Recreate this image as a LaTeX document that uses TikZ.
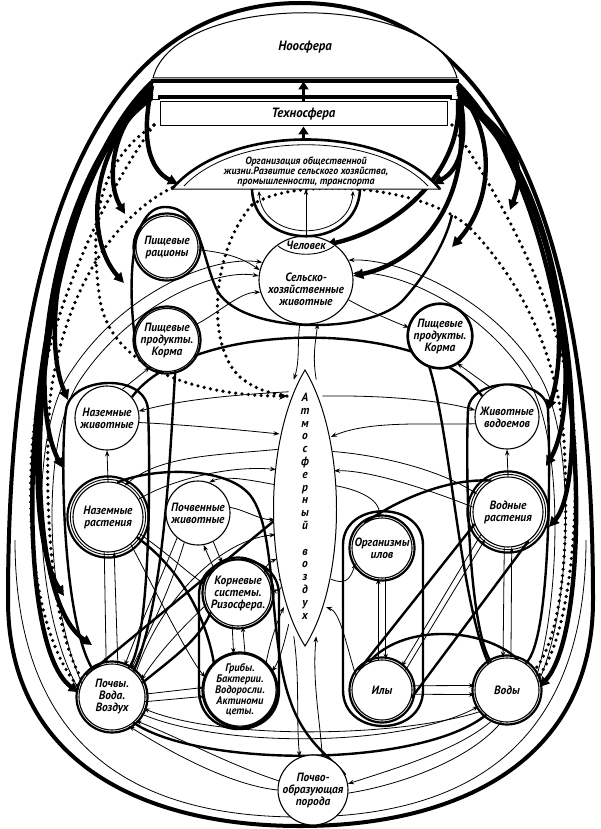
\documentclass[tikz,border=0pt]{standalone}
\usepackage{fontspec}
\newfontfamily\lblfont{PT Sans}[FakeStretch=0.95]
\usetikzlibrary{arrows.meta,shapes.geometric}
\pgfdeclarelayer{bg}
\pgfsetlayers{bg,main}
\newcommand\lfnt{\lblfont\itshape\bfseries\fontsize{12}{12}\selectfont}
\begin{document}
\begin{tikzpicture}[x=1pt,y=-1pt,
  nd/.style={circle,draw,fill=white,line width=1.1pt,align=center,inner sep=0pt,font=\lfnt},
  lbl/.style={align=center,font=\lfnt,inner sep=0pt},
  hv/.style={line width=4.4pt,-{Triangle[length=10pt,width=10pt]}},
  hvu/.style={line width=3pt,-{Triangle[length=8pt,width=10pt]}},
  th/.style={line width=2.4pt},
  tn/.style={line width=0.8pt},
  tnA/.style={line width=0.8pt,-{Stealth[length=6pt,width=4.4pt]}},
  dts/.style={line width=3.6pt,line cap=round,dash pattern=on 0pt off 6.4pt},
  dtsA/.style={dts,-{Stealth[length=8pt,width=7pt]}},
  ringT/.style={line width=2.2pt},
  ringt/.style={line width=0.9pt}
]
\useasboundingbox (0,0) rectangle (601,829);

% ---------- top structure ----------
\draw[line width=1pt,fill=white] (153,78) .. controls (175,-9) and (435,-9) .. (457,78) -- cycle;
\node[lbl,font=\lfnt\fontsize{13.5}{14}\selectfont] (noo) at (305,47) {Ноосфера};
\draw[line width=4.5pt] (151,81) -- (459,81);
\draw[line width=3.5pt] (158,97) -- (452,97);
\draw[line width=1pt] (152,81) -- (152,100) -- (160,100);
\draw[line width=1pt] (458,81) -- (458,100) -- (450,100);
\node[draw,line width=1pt,fill=white,minimum width=287pt,minimum height=24pt,inner sep=0pt,font=\lfnt\fontsize{13.5}{14}\selectfont] (tech) at (303.5,114) {Техносфера};
\draw[line width=1pt,fill=white] (172,189) .. controls (228,123) and (384,123) .. (440,189) -- cycle;
\draw[line width=2.6pt] (172,189) .. controls (228,123) and (384,123) .. (440,189);
\draw[line width=0.8pt] (184,186) .. controls (236,131) and (376,131) .. (428,186);
\node[lbl,font=\lfnt\fontsize{10.5}{10.2}\selectfont] (org) at (306,172) {Организация общественной\\жизни.Развитие сельского хозяйства,\\промышленности, транспорта};
\coordinate (orgtop) at (303.5,141);
\coordinate (orgbase) at (306,189);
\coordinate (orgL) at (178,185);
\coordinate (orgR) at (433,185);
\coordinate (barL) at (152,86);
\coordinate (barR) at (458,86);
\coordinate (techL) at (154,125);
\coordinate (techR) at (452,125);
\draw[hvu] (tech.north) -- ++(0,-20);
\draw[hvu] (orgtop) -- (tech.south);

% ---------- nodes ----------
\node[ellipse,draw,fill=white,line width=1.1pt,minimum width=94pt,minimum height=88pt,inner sep=0pt] (selh) at (306,280) {};
\draw[line width=2.6pt] (252,189) .. controls (254,252) and (358,252) .. (360,189);
\draw[line width=0.8pt,{Stealth[length=5pt,width=4pt]}-{Stealth[length=5pt,width=4pt]}] (259,191) .. controls (262,243) and (350,243) .. (353,191);
\draw[line width=0.9pt] (278,246) .. controls (292,257) and (320,257) .. (334,246);
\node[lbl] (chel) at (306,245) {Человек};
\node[lbl] (selhT) at (306,289) {Сельско-\\хозяйственные\\животные};

\node[nd,minimum size=62pt] (ras) at (167,247) {Пищевые\\рационы};
\node[nd,minimum size=62pt] (prodL) at (167,340) {Пищевые\\продукты.\\Корма};
\node[nd,minimum size=60pt] (prodR) at (440,336) {Пищевые\\продукты.\\Корма};
\node[nd,minimum size=64pt] (nzh) at (107,418) {Наземные\\животные};
\node[nd,minimum size=70pt] (nrs) at (108,517) {Наземные\\растения};
\node[nd,minimum size=64pt] (pzh) at (198,513) {Почвенные\\животные};
\node[nd,minimum size=66pt] (kor) at (238,593) {Корневые\\системы.\\Ризосфера.};
\node[nd,minimum size=70pt,font=\lfnt\fontsize{11}{10.8}\selectfont] (grb) at (240,690) {Грибы.\\Бактерии.\\Водоросли.\\Актиноми\\цеты.};
\node[nd,minimum size=66pt] (pvv) at (112,697) {Почвы.\\Вода.\\Воздух};
\node[nd,minimum size=66pt] (ppr) at (313,790) {Почво-\\образующая\\порода};
\node[nd,minimum size=64pt] (zhv) at (507,417) {Животные\\водоемов};
\node[nd,minimum size=70pt] (vrs) at (508,512) {Водные\\растения};
\node[nd,minimum size=60pt] (orgI) at (382,548) {Организмы\\илов};
\node[nd,minimum size=60pt] (ily) at (382,690) {Илы};
\node[nd,minimum size=64pt] (vod) at (507,690) {Воды};

\foreach \n/\r in {ras/33.5,prodL/33.5,prodR/32.5,kor/35.5,grb/37.5,pvv/35.5,ily/32.5,vod/34.5,orgI/32.5}
  \draw[ringT] (\n.center) circle[radius=\r];
\foreach \n in {nrs,vrs}{
  \draw[ringt] (\n.center) circle[radius=37.6];
  \draw[ringT] (\n.center) circle[radius=40.6];}

% atmosphere lens
\draw[line width=1pt,fill=white] (305,370) .. controls (347,440) and (347,580) .. (305,646) .. controls (263,580) and (263,440) .. cycle;
\node[ellipse,minimum width=60pt,minimum height=276pt,inner sep=0pt] (atm) at (305,508) {};
\node[lbl,font=\lfnt\fontsize{12}{12.8}\selectfont] (atmT) at (305,506) {А\\т\\м\\о\\с\\ф\\е\\р\\н\\ы\\й\\[12.8pt]в\\о\\з\\д\\у\\х};

\coordinate (fL1) at (178,184);
\coordinate (fL2) at (125,214);
\coordinate (fL3) at (124,283);
\coordinate (fL4) at (68,400);
\coordinate (fL5) at (63,468);
\coordinate (fL6) at (64,596);
\coordinate (fL7) at (92,645);
\coordinate (fR1) at (433,184);
\coordinate (fR2) at (452,247);
\coordinate (fR3) at (510,210);
\coordinate (fR4) at (548,410);
\coordinate (fR5) at (546,466);
\coordinate (fR6) at (549,527);
\coordinate (uL) at (252,205);

\begin{pgfonlayer}{bg}
\fill[white] (0,0) rectangle (601,829);
% egg
\draw[line width=4pt] (300,3) .. controls (505,3) and (593,240) .. (593,600) .. controls (593,760) and (460,826) .. (300,826) .. controls (140,826) and (8,760) .. (8,600) .. controls (8,240) and (95,3) .. (300,3);
\draw[tn] (15,540) .. controls (15,760) and (150,817) .. (300,817) .. controls (450,817) and (586,760) .. (586,540);

% heavy fans left
\draw[hv] (barL) .. controls (140,140) and (150,170) .. (fL1);
\draw[hv] ([yshift=-4pt]barL) .. controls (112,125) and (105,180) .. (fL2);
\draw[hv] ([yshift=-8pt]barL) .. controls (88,150) and (85,240) .. (fL3);
\draw[hv] ([yshift=-12pt]barL) .. controls (66,160) and (38,330) .. (fL4);
\draw[hv] ([yshift=-6pt]barL) .. controls (50,175) and (25,400) .. (fL5);
\draw[hv] ([yshift=-2pt]barL) .. controls (34,200) and (15,520) .. (fL6);
\draw[hv] ([yshift=2pt]barL) .. controls (26,205) and (10,590) .. (fL7);
\draw[hv] ([yshift=4pt]barL) .. controls (18,210) and (5,640) .. (pvv.172);
% heavy fans right
\draw[hv] (barR) .. controls (470,140) and (460,170) .. (fR1);
\draw[hv] ([yshift=-4pt]barR) .. controls (495,130) and (495,200) .. (fR2);
\draw[hv] ([yshift=-8pt]barR) .. controls (520,140) and (525,170) .. (fR3);
\draw[hv] ([yshift=-12pt]barR) .. controls (545,160) and (575,330) .. (fR4);
\draw[hv] ([yshift=-6pt]barR) .. controls (562,175) and (585,400) .. (fR5);
\draw[hv] ([yshift=-2pt]barR) .. controls (578,200) and (590,480) .. (fR6);
\draw[hv] ([yshift=2pt]barR) .. controls (588,215) and (600,620) .. (vod.5);
\draw[hv] ([yshift=-14pt]barR) .. controls (475,200) and (420,262) .. (selh.5);
\draw[hv] ([yshift=-16pt]barR) .. controls (462,170) and (400,228) .. (chel.east);

% dotted
\draw[dts] (techL) .. controls (100,200) and (40,330) .. (32,450) .. controls (25,560) and (45,650) .. (pvv.165);
\draw[dtsA] (techL) .. controls (100,160) and (88,220) .. (100,300) .. controls (112,370) and (200,396) .. (atm.99);
\draw[dts] (orgL) .. controls (110,215) and (62,300) .. (50,400) .. controls (42,520) and (55,640) .. (pvv.150);
\draw[dts] (uL) .. controls (212,250) and (205,345) .. (240,377) .. controls (258,392) and (276,394) .. (atm.99);
\draw[dts] (uL) .. controls (290,178) and (420,182) .. (470,228) .. controls (525,285) and (558,360) .. (564,440) .. controls (570,560) and (560,640) .. (vod.35);
\draw[dts] (techR) .. controls (515,220) and (572,330) .. (575,450) .. controls (578,560) and (562,650) .. (vod.22);

% thick loops and curves
\draw[th] (pvv.125) .. controls (62,620) and (60,450) .. (66,410) .. controls (70,376) and (146,372) .. (148,410) .. controls (150,450) and (152,640) .. (pvv.60);
\draw[th] (vod.120) .. controls (466,620) and (466,450) .. (468,410) .. controls (470,376) and (546,376) .. (548,410) .. controls (550,450) and (552,640) .. (vod.55);
\draw[th] (343,545) .. controls (343,500) and (423,500) .. (423,545) -- (423,690) .. controls (423,738) and (343,738) .. (343,690) -- cycle;
\draw[th] (199,595) .. controls (199,548) and (279,548) .. (279,595) -- (279,690) .. controls (279,742) and (199,742) .. (199,690) -- cycle;
\draw[th] (prodL.200) .. controls (128,300) and (126,207) .. (165,207) .. controls (202,207) and (202,262) .. (218,292) .. controls (245,335) and (375,335) .. (405,298) .. controls (425,275) and (445,245) .. (452,215);
\draw[th] (nzh.40) .. controls (190,318) and (430,318) .. (zhv.140);
\draw[th] (prodL.-75) .. controls (170,450) and (165,600) .. (pvv.50);
\draw[th] (prodR.-110) .. controls (450,430) and (460,600) .. (vod.125);
\draw[th] (nrs.75) .. controls (150,468) and (225,465) .. (250,495) .. controls (278,530) and (268,640) .. (290,700) .. controls (305,745) and (335,760) .. (ppr.25);
\draw[th] (pvv.140) -- (atm.202);
\draw[th] (nrs.-35) .. controls (175,565) and (205,610) .. (grb.135);
\draw[th] (pvv.25) .. controls (170,660) and (200,640) .. (kor.215);
\draw[th] (ily.140) -- (vrs.200);
\draw[th] (ily.-15) -- (vrs.-55);
\draw[th] (ily.115) .. controls (400,625) and (480,625) .. (vod.70);
\draw[th] (orgI.125) .. controls (400,498) and (450,478) .. (vrs.118);
\draw[th] (pvv.-50) .. controls (200,768) and (420,768) .. (vod.-130);

% stems
\draw[tnA] (selh.-98) .. controls (297,345) and (300,360) .. (atm.95);
\draw[tnA] (atm.85) .. controls (312,355) and (316,340) .. (selh.-75);
\draw[tnA] (atm.-95) .. controls (300,680) and (296,720) .. (ppr.112);
\draw[tnA] (ppr.75) .. controls (320,720) and (312,680) .. (atm.-85);
\draw[tnA] (chel.north) -- (orgbase);

% atmosphere left
\draw[tnA] (atm.98.7) .. controls (230,395) and (180,400) .. (nzh.12);
\draw[tnA] (nzh.-8) .. controls (190,425) and (240,430) .. (atm.109.9);
\draw[tnA] (atm.115.1) .. controls (220,455) and (160,455) .. (nrs.62);
\draw[tnA] (nrs.30) .. controls (170,480) and (230,465) .. (atm.127.2);
\draw[tnA] (atm.142.2) .. controls (250,480) and (225,475) .. (pzh.70);
\draw[tnA] (pzh.10) .. controls (245,510) and (260,520) .. (atm.201.9);
\draw[tnA] (kor.30) .. controls (260,570) and (270,562) .. (atm.241.9);
\draw[tnA] (atm.250.4) .. controls (285,585) and (280,592) .. (kor.5);
\draw[tnA] (grb.45) .. controls (270,640) and (280,615) .. (atm.258.8);
\draw[tnA] (atm.262.3) .. controls (285,640) and (280,660) .. (grb.30);
\draw[tnA] (pvv.45) .. controls (160,600) and (220,540) .. (atm.222.6);
% atmosphere right
\draw[tnA] (atm.81.3) .. controls (380,395) and (440,400) .. (zhv.168);
\draw[tnA] (zhv.192) .. controls (430,425) and (370,420) .. (atm.70.1);
\draw[tnA] (atm.64.9) .. controls (380,455) and (440,470) .. (vrs.150);
\draw[tnA] (vrs.172) .. controls (430,490) and (370,470) .. (atm.52.8);
\draw[tnA] (atm.37.8) .. controls (360,490) and (380,500) .. (orgI.95);
\draw[tnA] (ily.150) .. controls (345,640) and (340,612) .. (atm.-78.8);
\draw[tnA] (atm.-70.4) .. controls (345,585) and (350,580) .. (orgI.-150);

% verticals / horizontals
\draw[tnA] (nrs.north) -- (nzh.south);
\draw[tnA] (vrs.north) -- (zhv.south);
\draw[tnA] (nrs.-96) -- (pvv.100);
\draw[tnA] (pvv.80) -- (nrs.-80);
\draw[tnA] (vrs.-96) -- (vod.97);
\draw[tnA] (vod.83) -- (vrs.-84);
\draw[tnA] (ily.97) -- (orgI.-97);
\draw[tnA] (orgI.-83) -- (ily.83);
\draw[tnA] (grb.82) -- (kor.-82);
\draw[tnA] (kor.-100) -- (grb.100);
\draw[tnA] (pvv.5) -- (grb.176);
\draw[tnA] (pvv.-8) -- (grb.190);
\draw[tnA] (ily.8) -- (vod.172);
\draw[tnA] (ily.-8) -- (vod.188);

% other thin
\draw[tnA] (ras.-5) .. controls (220,252) and (240,256) .. (selh.168);
\draw[tnA] (prodL.28) .. controls (220,312) and (240,292) .. (selh.195);
\draw[tnA] (nzh.62) -- (prodL.-122);
\draw[tnA] (zhv.118) -- (prodR.-58);
\draw[tnA] (selh.-25) .. controls (370,312) and (395,322) .. (prodR.165);
\draw[tnA] (pvv.155) .. controls (45,600) and (40,440) .. (80,380) .. controls (130,305) and (215,268) .. (selh.175);
\draw[tnA] (pvv.168) .. controls (32,610) and (28,430) .. (72,370) .. controls (125,290) and (215,255) .. (selh.158);
\draw[tnA] (vod.25) .. controls (560,600) and (565,440) .. (528,380) .. controls (485,310) and (400,270) .. (selh.8);
\draw[tnA] (vod.15) .. controls (572,610) and (578,430) .. (536,370) .. controls (492,298) and (400,258) .. (selh.25);
\draw[tnA] (nrs.-28) .. controls (170,555) and (190,575) .. (kor.165);
\draw[tnA] (nrs.-50) .. controls (160,600) and (190,660) .. (grb.160);
\draw[tnA] (pzh.-62) -- (kor.118);
\draw[tnA] (kor.135) -- (pzh.-80);
\draw[tnA] (pzh.-115) .. controls (170,590) and (150,630) .. (pvv.55);
\draw[tnA] (pzh.-130) .. controls (160,580) and (140,625) .. (pvv.68);
\draw[tnA] (kor.200) .. controls (190,620) and (160,650) .. (pvv.30);
\draw[tnA] (vrs.-140) -- (ily.50);
\draw[tnA] (ily.40) -- (vrs.-130);

% bottom
\draw[tnA] (pvv.-30) .. controls (220,748) and (400,748) .. (vod.-150);
\draw[tnA] (vod.-140) .. controls (400,738) and (220,740) .. (pvv.-20);
\draw[tnA] (ppr.165) .. controls (230,765) and (180,738) .. (pvv.-45);
\draw[tnA] (ppr.180) .. controls (230,785) and (170,752) .. (pvv.-60);
\draw[tnA] (vod.-115) .. controls (460,750) and (390,770) .. (ppr.10);
\draw[tn] (ppr.-5) .. controls (400,785) and (470,760) .. (vod.-100);
\end{pgfonlayer}
\end{tikzpicture}
\end{document}
